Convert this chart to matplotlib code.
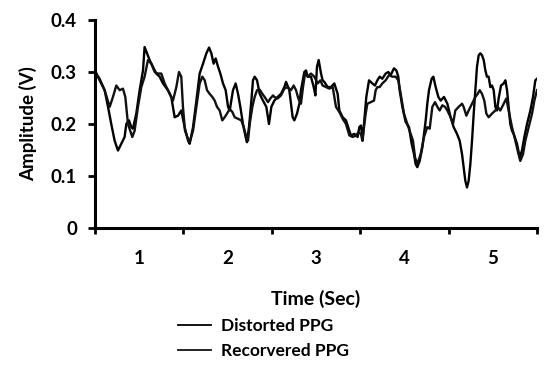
import matplotlib
matplotlib.use("Agg")
import matplotlib.pyplot as plt
from matplotlib.ticker import FixedLocator, NullFormatter, FixedFormatter

plt.rcParams['font.family'] = ['Lato', 'DejaVu Sans']
plt.rcParams['font.weight'] = 'bold'

# Time (s) and amplitude (V)
t_distorted = [0.50, 0.552, 0.609, 0.647, 0.684, 0.722, 0.760, 0.798, 0.835, 0.854,
               0.884, 0.911, 0.929, 0.967, 1.005, 1.043, 1.061, 1.088, 1.118, 1.156,
               1.193, 1.231, 1.269, 1.325, 1.363, 1.401, 1.439, 1.476, 1.514, 1.553,
               1.571, 1.609, 1.647, 1.684, 1.722, 1.760, 1.790, 1.816, 1.842, 1.865,
               1.892, 1.918, 1.948, 1.978, 2.005, 2.024, 2.042, 2.061, 2.091, 2.118,
               2.144, 2.174, 2.204, 2.219, 2.242, 2.269, 2.287, 2.306, 2.333, 2.363,
               2.400, 2.438, 2.468, 2.495, 2.529, 2.566, 2.604, 2.642, 2.661, 2.698,
               2.717, 2.736, 2.755, 2.785, 2.812, 2.830, 2.868, 2.887, 2.906, 2.943,
               2.974, 2.993, 3.011, 3.030, 3.057, 3.075, 3.094, 3.132, 3.170, 3.207,
               3.245, 3.264, 3.302, 3.339, 3.377, 3.396, 3.434, 3.471, 3.490, 3.509,
               3.528, 3.543, 3.569, 3.600, 3.637, 3.667, 3.694, 3.720, 3.750, 3.788,
               3.818, 3.845, 3.882, 3.909, 3.931, 3.946, 3.977, 4.014, 4.052, 4.082,
               4.109, 4.127, 4.146, 4.173, 4.203, 4.241, 4.259, 4.278, 4.308, 4.327,
               4.354, 4.384, 4.410, 4.448, 4.486, 4.523, 4.557, 4.595, 4.625, 4.652,
               4.670, 4.689, 4.708, 4.727, 4.746, 4.765, 4.784, 4.803, 4.821, 4.840,
               4.859, 4.878, 4.897, 4.916, 4.934, 4.953, 4.972, 4.991, 5.010, 5.029,
               5.048, 5.066, 5.093, 5.123, 5.142, 5.161, 5.179, 5.198, 5.217, 5.236,
               5.274, 5.304, 5.330, 5.357, 5.387, 5.425, 5.455, 5.481, 5.500]
v_distorted = [0.300, 0.287, 0.265, 0.233, 0.200, 0.168, 0.149, 0.162, 0.175, 0.200,
               0.207, 0.194, 0.191, 0.220, 0.265, 0.303, 0.348, 0.336, 0.323, 0.310,
               0.297, 0.291, 0.278, 0.265, 0.252, 0.213, 0.216, 0.226, 0.194, 0.168,
               0.162, 0.194, 0.245, 0.297, 0.316, 0.336, 0.347, 0.336, 0.316, 0.326,
               0.310, 0.297, 0.278, 0.265, 0.233, 0.226, 0.245, 0.265, 0.278, 0.258,
               0.233, 0.200, 0.175, 0.165, 0.194, 0.245, 0.284, 0.291, 0.284, 0.258,
               0.245, 0.233, 0.200, 0.233, 0.245, 0.252, 0.258, 0.271, 0.281, 0.265,
               0.239, 0.213, 0.207, 0.220, 0.239, 0.265, 0.300, 0.303, 0.291, 0.291,
               0.271, 0.255, 0.310, 0.323, 0.297, 0.284, 0.281, 0.271, 0.271, 0.278,
               0.258, 0.226, 0.213, 0.207, 0.187, 0.178, 0.181, 0.175, 0.194, 0.197,
               0.168, 0.200, 0.252, 0.284, 0.278, 0.274, 0.284, 0.291, 0.287, 0.297,
               0.300, 0.294, 0.307, 0.303, 0.291, 0.265, 0.233, 0.204, 0.194, 0.162,
               0.142, 0.123, 0.117, 0.129, 0.155, 0.207, 0.239, 0.265, 0.287, 0.291,
               0.271, 0.252, 0.245, 0.252, 0.239, 0.213, 0.194, 0.181, 0.168, 0.142,
               0.117, 0.091, 0.078, 0.091, 0.123, 0.168, 0.220, 0.265, 0.310, 0.332,
               0.336, 0.332, 0.323, 0.303, 0.291, 0.291, 0.271, 0.274, 0.265, 0.233,
               0.226, 0.249, 0.274, 0.278, 0.284, 0.265, 0.233, 0.200, 0.187, 0.181,
               0.162, 0.136, 0.149, 0.175, 0.200, 0.226, 0.252, 0.284, 0.287]

t_recovered = [0.50, 0.552, 0.609, 0.666, 0.703, 0.741, 0.779, 0.816, 0.843, 0.873,
               0.899, 0.922, 0.948, 0.986, 1.024, 1.061, 1.099, 1.137, 1.175, 1.212,
               1.250, 1.288, 1.325, 1.382, 1.420, 1.450, 1.476, 1.495, 1.518, 1.553,
               1.571, 1.609, 1.647, 1.684, 1.714, 1.741, 1.767, 1.797, 1.827, 1.854,
               1.880, 1.910, 1.940, 1.967, 1.993, 2.024, 2.054, 2.080, 2.118, 2.155,
               2.182, 2.212, 2.231, 2.250, 2.280, 2.306, 2.333, 2.363, 2.393, 2.419,
               2.457, 2.483, 2.514, 2.529, 2.566, 2.604, 2.642, 2.679, 2.717, 2.747,
               2.774, 2.800, 2.830, 2.853, 2.876, 2.906, 2.943, 2.981, 3.019, 3.049,
               3.075, 3.113, 3.151, 3.189, 3.226, 3.264, 3.302, 3.339, 3.377, 3.415,
               3.453, 3.479, 3.509, 3.524, 3.562, 3.581, 3.618, 3.656, 3.675, 3.694,
               3.720, 3.750, 3.788, 3.826, 3.863, 3.901, 3.931, 3.958, 3.995, 4.033,
               4.071, 4.097, 4.120, 4.146, 4.184, 4.222, 4.259, 4.286, 4.316, 4.346,
               4.373, 4.399, 4.429, 4.459, 4.486, 4.523, 4.550, 4.576, 4.614, 4.652,
               4.670, 4.701, 4.727, 4.765, 4.803, 4.829, 4.852, 4.878, 4.904, 4.927,
               4.953, 4.991, 5.029, 5.055, 5.085, 5.123, 5.153, 5.179, 5.217, 5.255,
               5.281, 5.311, 5.342, 5.368, 5.406, 5.444, 5.470, 5.500]
v_recovered = [0.303, 0.284, 0.265, 0.233, 0.252, 0.274, 0.265, 0.268, 0.252, 0.200,
               0.187, 0.175, 0.187, 0.233, 0.271, 0.291, 0.323, 0.316, 0.300, 0.297,
               0.297, 0.278, 0.265, 0.245, 0.271, 0.300, 0.291, 0.233, 0.187, 0.171,
               0.165, 0.187, 0.233, 0.278, 0.291, 0.284, 0.265, 0.258, 0.252, 0.245,
               0.233, 0.226, 0.207, 0.213, 0.220, 0.229, 0.223, 0.213, 0.210, 0.207,
               0.194, 0.175, 0.168, 0.200, 0.233, 0.252, 0.265, 0.266, 0.258, 0.252,
               0.242, 0.249, 0.255, 0.252, 0.249, 0.255, 0.268, 0.271, 0.265, 0.274,
               0.265, 0.249, 0.239, 0.271, 0.297, 0.291, 0.297, 0.291, 0.278, 0.284,
               0.274, 0.271, 0.268, 0.271, 0.233, 0.223, 0.210, 0.200, 0.178, 0.175,
               0.178, 0.184, 0.181, 0.168, 0.220, 0.239, 0.242, 0.245, 0.265, 0.271,
               0.271, 0.278, 0.284, 0.294, 0.291, 0.291, 0.284, 0.258, 0.220, 0.200,
               0.181, 0.168, 0.136, 0.123, 0.142, 0.175, 0.194, 0.191, 0.233, 0.242,
               0.233, 0.226, 0.236, 0.233, 0.226, 0.213, 0.200, 0.226, 0.233, 0.239,
               0.233, 0.216, 0.226, 0.239, 0.252, 0.258, 0.265, 0.258, 0.245, 0.220,
               0.213, 0.220, 0.226, 0.233, 0.226, 0.239, 0.249, 0.226, 0.194, 0.168,
               0.149, 0.129, 0.142, 0.168, 0.194, 0.220, 0.245, 0.265]

y_ticks = [0, 0.1, 0.2, 0.3, 0.4]
y_tick_labels = ["0", "0.1", "0.2", "0.3", "0.4"]
x_tick_marks = [0.5, 1.5, 2.5, 3.5, 4.5, 5.5]
x_label_pos = [1, 2, 3, 4, 5]
x_tick_labels = ["1", "2", "3", "4", "5"]

fig = plt.figure(figsize=(5.45, 3.70), dpi=100)
ax = fig.add_axes([95 / 545, 1 - 228 / 370, 442 / 545, 208 / 370])

ax.plot(t_distorted, v_distorted, color="#000000", lw=1.7, label="Distorted PPG")
ax.plot(t_recovered, v_recovered, color="#111111", lw=1.7, label="Recorvered PPG")

ax.set_xlim(0.5, 5.5)
ax.set_ylim(0, 0.4)

ax.xaxis.set_major_locator(FixedLocator(x_tick_marks))
ax.xaxis.set_major_formatter(NullFormatter())
ax.xaxis.set_minor_locator(FixedLocator(x_label_pos))
ax.xaxis.set_minor_formatter(FixedFormatter(x_tick_labels))
ax.tick_params(axis="x", which="major", length=4, width=2, direction="out", color="black")
ax.tick_params(axis="x", which="minor", length=0, pad=16, labelsize=13.5)

ax.set_yticks(y_ticks)
ax.set_yticklabels(y_tick_labels)
ax.tick_params(axis="y", length=5, width=2, direction="out", pad=8, labelsize=13.5)

for s in ["top", "right"]:
    ax.spines[s].set_visible(False)
for s in ["left", "bottom"]:
    ax.spines[s].set_linewidth(2.2)

ax.set_ylabel("Amplitude (V)", fontsize=13.5, fontweight="bold")
ax.yaxis.set_label_coords(-0.13, 0.5)
ax.set_xlabel("Time (Sec)", fontsize=14, fontweight="bold")
ax.xaxis.set_label_coords(0.5, -0.30)

leg = ax.legend(loc="upper left", bbox_to_anchor=(178 / 545, 1 - 318 / 370),
                bbox_transform=fig.transFigure, frameon=False, fontsize=12.5,
                handlelength=1.9, handletextpad=0.6, labelspacing=0.5,
                borderpad=0, borderaxespad=0)
for line in leg.get_lines():
    line.set_linewidth(1.3)

fig.savefig("out.png", dpi=100)
